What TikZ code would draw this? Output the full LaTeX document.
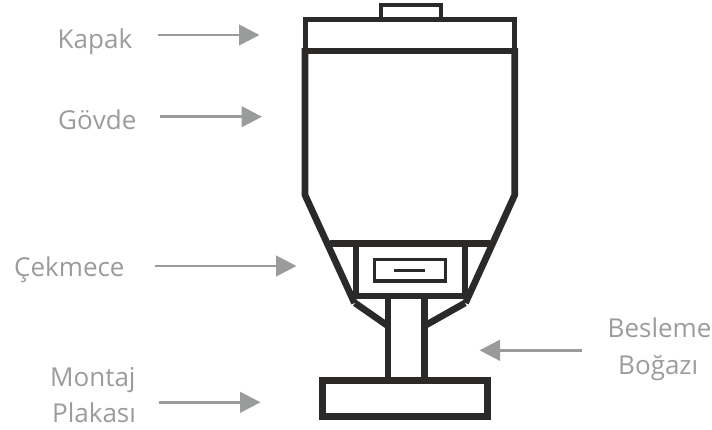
\documentclass[tikz,border=0pt]{standalone}
\usepackage{fontspec}
\setmainfont{Open Sans}
\usetikzlibrary{arrows.meta}
\definecolor{ink}{HTML}{2B2A29}
\definecolor{ash}{HTML}{9A9C9B}
\tikzset{
  thick line/.style={draw=ink,line width=6.7pt,line join=miter},
  mid line/.style={draw=ink,line width=5.2pt,line join=miter},
  thin line/.style={draw=ink,line width=3.2pt,line join=miter},
  label text/.style={inner sep=0pt,anchor=base west,text=ash,font=\fontsize{26}{26}\selectfont},
  pointer/.style={draw=ash,line width=2.9pt,-{Triangle[length=20.5pt,width=20.5pt,fill=ash]},shorten >=0pt}
}
\begin{document}
\begin{tikzpicture}[x=1pt,y=-1pt]
\useasboundingbox (0,0) rectangle (712,429);
% lid and knob
\draw[thin line,line width=4.6pt] (381,20) -- (381,4.9) -- (441,4.9) -- (441,20);
\draw[mid line] (305.3,51) -- (305.3,19.6) -- (514.7,19.6) -- (514.7,51);
% body
\draw[thick line] (305,48) -- (305,195) -- (354.5,303);
\draw[thick line] (514.7,48) -- (514.7,195) -- (465.5,303);
\draw[thick line] (302,51) -- (518,51);
\draw[thick line] (330,243.5) -- (490,243.5);
% drawer
\draw[thick line] (356,243.5) -- (356,296) -- (465,296) -- (465,243.5);
\draw[thin line] (374.5,259.5) rectangle (445.5,281);
\draw[draw=ink,line width=3.2pt] (394,270.7) -- (425,270.7);
% neck
\draw[thick line] (388,296) -- (388,381);
\draw[thick line] (424.3,296) -- (424.3,381);
\draw[thick line] (355,303) -- (388,326);
\draw[thick line] (465,303) -- (424.3,326);
% base
\draw[thick line] (322.2,380.5) rectangle (487.2,416.2);
% labels
\node[label text] (kapak) at (57.5,48) {Kapak};
\node[label text] (govde) at (58,129) {Gövde};
\node[label text] (cekmece) at (14,276) {Çekmece};
\node[label text] (montaj) at (50,386) {Montaj};
\node[label text] (plakasi) at (52,422) {Plakası};
\node[label text] (besleme) at (607.5,337) {Besleme};
\node[label text] (bogazi) at (618,374) {Boğazı};
% arrows
\coordinate (a1s) at (158,35); \coordinate (a1e) at (259.5,35);
\coordinate (a2s) at (160,116.7); \coordinate (a2e) at (262,116.7);
\coordinate (a3s) at (155,266); \coordinate (a3e) at (296.5,266);
\coordinate (a4s) at (158.7,402.3); \coordinate (a4e) at (260.5,402.3);
\coordinate (a5s) at (581.7,350.3); \coordinate (a5e) at (479.5,350.3);
\draw[pointer] (a1s) -- (a1e);
\draw[pointer] (a2s) -- (a2e);
\draw[pointer] (a3s) -- (a3e);
\draw[pointer] (a4s) -- (a4e);
\draw[pointer] (a5s) -- (a5e);
\end{tikzpicture}
\end{document}
